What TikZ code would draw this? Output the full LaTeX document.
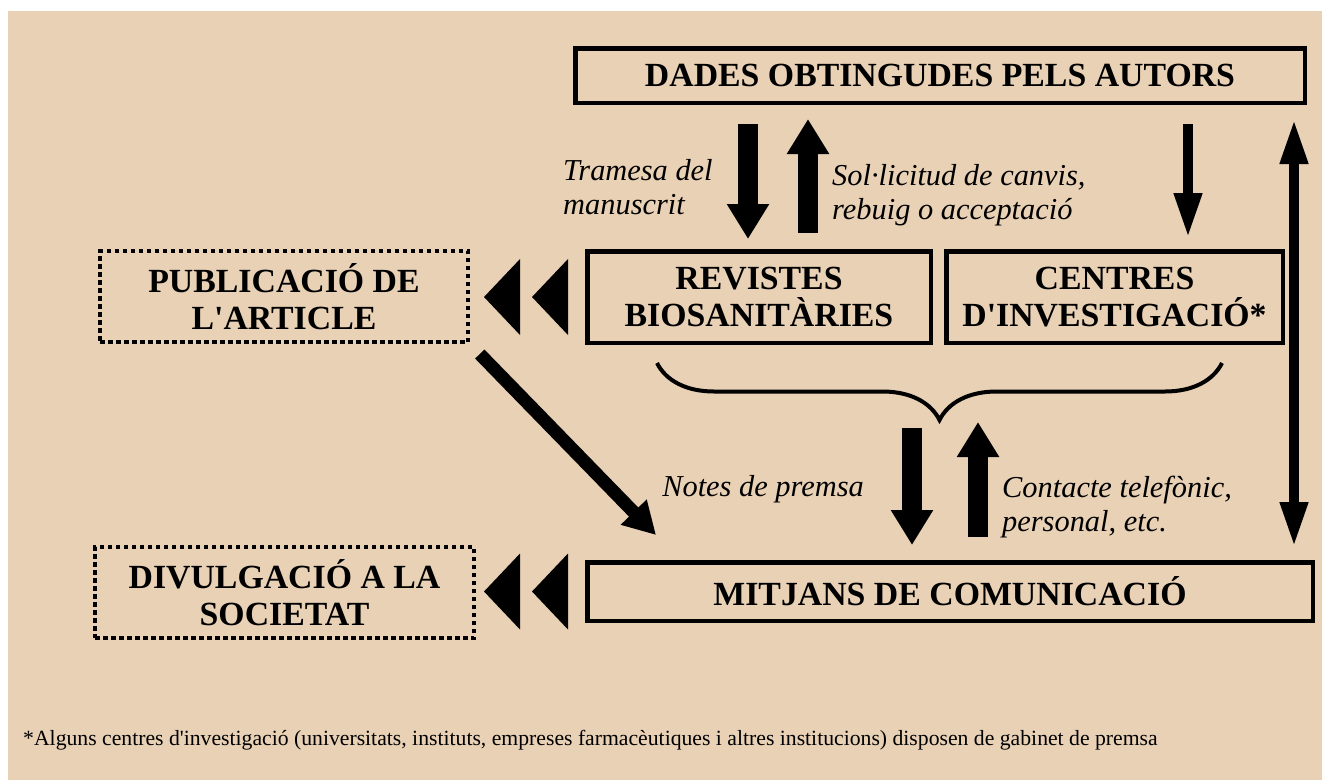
\documentclass[tikz,border=0pt]{standalone}
\usepackage{fontspec}
\defaultfontfeatures[\rmfamily]{}
\setmainfont{Liberation Serif}
\usetikzlibrary{arrows.meta,decorations.pathreplacing}
\definecolor{paper}{RGB}{233,209,182}

\begin{document}
\begin{tikzpicture}[x=1pt,y=-1pt,%
					box/.style={draw,line width=4.5pt,inner sep=0pt,align=center,font=\fontsize{33.8}{37}\selectfont\bfseries},%
					dotbox/.style={box,line width=4pt,dash pattern=on 4.5pt off 3.5pt},%
					remark/.style={inner sep=0pt,align=left,anchor=west,font=\fontsize{30.4}{34}\selectfont\itshape},%
					fat/.style={line width=20pt,-{Triangle[length=35pt,width=40pt]}},%
					slim/.style={line width=10pt,-{Triangle[length=45pt,width=26pt]}}]

\useasboundingbox (0,0) rectangle (1322,780);
\fill[paper] (8,11) rectangle (1322,780);

\foreach \a/\b/\c/\d/\e/\f in {dades/940/75.5/729.5/54.5/{DADES OBTINGUDES PELS AUTORS},rev/759/297/343.5/91.5/{REVISTES\\BIOSANITÀRIES},cen/1114.5/297/336.5/91.5/{CENTRES\\D'INVESTIGACIÓ*},mit/950/591.5/725.5/58.5/{MITJANS DE COMUNICACIÓ}}
	\node [box,minimum width=\d,minimum height=\e] (\a) at (\b,\c) {\f};

\node [dotbox,minimum width=368,minimum height=91] (pub) at (284,296.5) {PUBLICACIÓ DE\\L'ARTICLE};
\node [dotbox,minimum width=379,minimum height=91] (div) at (284.5,592.5) {DIVULGACIÓ A LA\\SOCIETAT};

% double triangles
\foreach \r in {rev,mit}
	\foreach \s in {17,65}
		\fill ([xshift=-\s pt]\r.west) ++(0,-38) -- ++(0,76) -- ++(-36,-38) -- cycle;

\coordinate (x1) at (748,0);
\coordinate (x2) at (808,0);
\coordinate (x3) at (1188,0);
\coordinate (x4) at (1294,0);
\coordinate (x5) at (912,0);
\coordinate (x6) at (978,0);
\coordinate (br1) at (657,363);
\coordinate (br2) at (1222,363);
\coordinate (bt) at (0,422);
\coordinate (diag) at (656,535);

\draw [fat,shorten <=19pt,shorten >=10pt] (dades.south -| x1) -- (rev.north -| x1);
\draw [fat,shorten <=16pt,shorten >=14pt] (rev.north -| x2) -- (dades.south -| x2);
\draw [slim,shorten <=19pt,shorten >=11pt] (dades.south -| x3) -- (cen.north -| x3);
\draw [slim,{Triangle[length=45pt,width=26pt]}-{Triangle[length=45pt,width=26pt]},shorten <=14pt,shorten >=13pt] (dades.south -| x4) -- (mit.north -| x4);

\draw [decorate,decoration={brace,amplitude=57pt,mirror},line width=4pt] (br1) -- (br2);

\draw [fat,shorten <=6pt,shorten >=15pt] (bt -| x5) -- (mit.north -| x5);
\draw [fat,shorten <=23pt] (mit.north -| x6) -- (bt -| x6);

\draw [line width=13pt,-{Triangle[length=32pt,width=34pt]},shorten <=14pt] (pub.south east) -- (diag);

\node [remark] (tram) at (563,187.5) {Tramesa del\\manuscrit};
\node [remark] (sol) at (832,195) {Sol·licitud de canvis,\\rebuig o acceptació};
\node [remark,anchor=base east] (notes) at (864,496) {Notes de premsa};
\node [remark] (cont) at (1002,507) {Contacte telefònic,\\personal, etc.};

\node [inner sep=0pt,anchor=base west,font=\fontsize{21.7}{25}\selectfont] (foot) at (23,745) {*Alguns centres d'investigació (universitats, instituts, empreses farmacèutiques i altres institucions) disposen de gabinet de premsa};

\end{tikzpicture}
\end{document}
